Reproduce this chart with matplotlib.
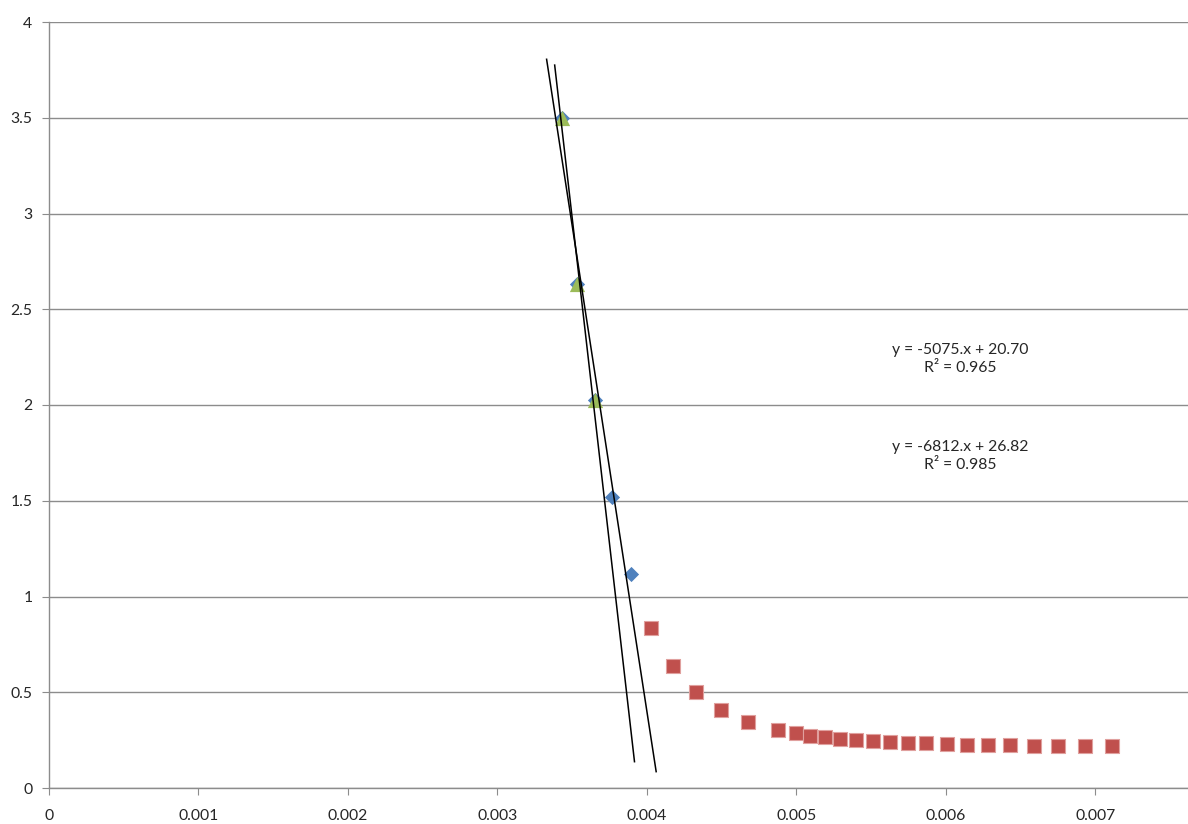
import matplotlib.pyplot as plt
import numpy as np

# blue diamonds (first 3 hidden under the green triangles)
blue_x = [0.003430, 0.003530, 0.003651, 0.003765, 0.003893]
blue_y = [3.499, 2.632, 2.026, 1.520, 1.117]

# green triangles
green_x = [0.003430, 0.003530, 0.003651]
green_y = [3.499, 2.632, 2.026]

# red squares
red_x = [0.004029, 0.004172, 0.004327, 0.004497, 0.004676, 0.004877, 0.005000,
         0.005094, 0.005190, 0.005293, 0.005401, 0.005512, 0.005624, 0.005745,
         0.005869, 0.006008, 0.006141, 0.006282, 0.006431, 0.006592, 0.006753,
         0.006932, 0.007112]
red_y = [0.834, 0.637, 0.503, 0.407, 0.343, 0.301, 0.285, 0.271, 0.264, 0.257,
         0.251, 0.245, 0.238, 0.235, 0.233, 0.230, 0.225, 0.225, 0.222, 0.221,
         0.221, 0.221, 0.221]

# trendlines: slope, intercept, x range, label
trend_slopes = [-5075, -6812]
trend_intercepts = [20.70, 26.82]
trend_xrange = [(0.003329, 0.004062), (0.003383, 0.003917)]
trend_labels = ["y = -5075.x + 20.70\nR² = 0.965", "y = -6812.x + 26.82\nR² = 0.985"]
label_pos = [(0.006094, 2.24), (0.006094, 1.735)]

plt.rcParams['font.family'] = ['Lato', 'DejaVu Sans']

fig = plt.figure(figsize=(11.88, 8.24), dpi=100)
ax = fig.add_axes([49 / 1188, 1 - 788 / 824, 1 - 49 / 1188, (788 - 22) / 824])

ax.scatter(blue_x, blue_y, marker='D', s=60, color='#4F81BD', zorder=3, linewidths=0)
ax.scatter(green_x, green_y, marker='^', s=120, color='#9BBB59', zorder=4, linewidths=0)
ax.scatter(red_x, red_y, marker='s', s=88, color='#C0504D', zorder=3,
           edgecolors='#E0A09E', linewidths=0.8)

for m, b, (x0, x1) in zip(trend_slopes, trend_intercepts, trend_xrange):
    xs = np.array([x0, x1])
    ax.plot(xs, m * xs + b, color='black', lw=1.1, zorder=5)

for txt, (tx, ty) in zip(trend_labels, label_pos):
    ax.text(tx, ty, txt, ha='center', va='center', fontsize=11.3, linespacing=1.4,
            color='#262626', multialignment='center')

ax.set_xlim(0, 0.00762)
ax.set_ylim(0, 4)
ax.set_xticks([0, 0.001, 0.002, 0.003, 0.004, 0.005, 0.006, 0.007])
ax.set_xticklabels(['0', '0.001', '0.002', '0.003', '0.004', '0.005', '0.006', '0.007'])
ax.set_yticks([0, 0.5, 1, 1.5, 2, 2.5, 3, 3.5, 4])
ax.set_yticklabels(['0', '0.5', '1', '1.5', '2', '2.5', '3', '3.5', '4'])

ax.yaxis.grid(True, color='#8C8C8C', lw=1.0)
ax.set_axisbelow(True)
for s in ['top', 'right']:
    ax.spines[s].set_visible(False)
for s in ['left', 'bottom']:
    ax.spines[s].set_color('#8C8C8C')
    ax.spines[s].set_linewidth(1.0)
ax.tick_params(axis='both', colors='#8C8C8C', labelcolor='#262626', labelsize=11.3, length=5)
ax.tick_params(axis='x', pad=10)
ax.tick_params(axis='y', pad=7)

fig.savefig('out.png', dpi=100)
